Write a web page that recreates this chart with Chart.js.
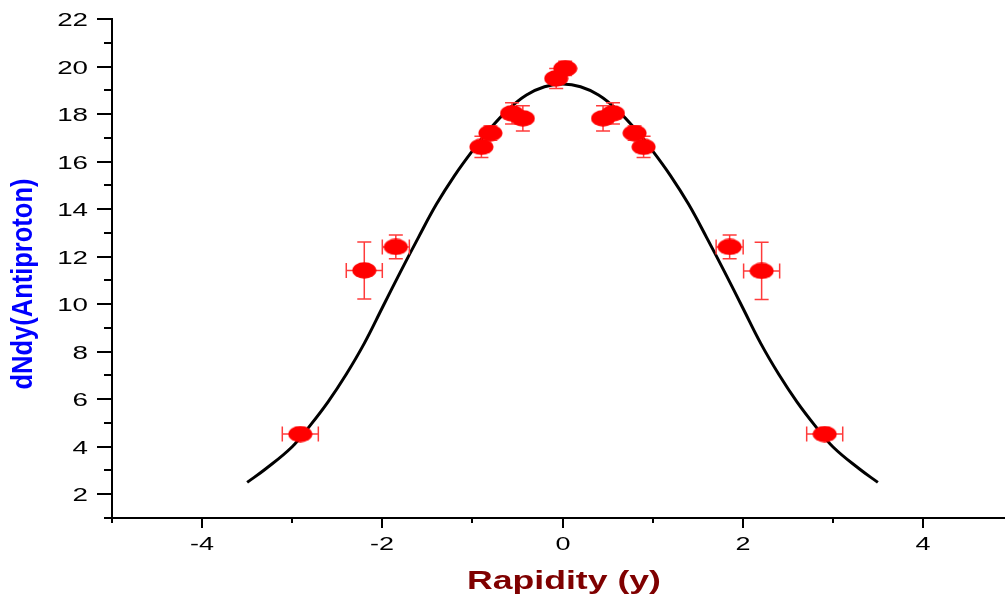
<!DOCTYPE html>
<html><head><meta charset="utf-8">
<script src="https://cdn.jsdelivr.net/npm/chart.js@4.4.0/dist/chart.umd.min.js"></script>
<style>html,body{margin:0;padding:0;overflow:hidden;background:#fff}canvas{display:block}</style>
</head><body>
<canvas id="c" width="1005" height="597" style="width:1005px;height:597px"></canvas>
<script>
// ---- data ----
const rapidity = [-2.91, -2.2, -1.85, -0.9, -0.8, -0.56, -0.44, -0.07, 0.03, 0.45, 0.56, 0.8, 0.9, 1.855, 2.21, 2.91];
const dNdy     = [4.53, 11.42, 12.41, 16.62, 17.2, 18.03, 17.82, 19.5, 19.92, 17.82, 18.03, 17.2, 16.62, 12.41, 11.4, 4.53];
const xErr     = [0.2, 0.2, 0.15, 0, 0, 0, 0, 0, 0, 0, 0, 0, 0, 0.15, 0.2, 0.2];
const yErr     = [0.2, 1.2, 0.5, 0.45, 0.3, 0.45, 0.53, 0.42, 0.3, 0.53, 0.45, 0.3, 0.45, 0.5, 1.2, 0.2];
const fitX = [-3.5, -3.3, -3.0, -2.8, -2.6, -2.4, -2.2, -2.0, -1.8, -1.6, -1.4, -1.2, -1.0, -0.8, -0.6, -0.4, -0.2, 0,
              0.2, 0.4, 0.6, 0.8, 1.0, 1.2, 1.4, 1.6, 1.8, 2.0, 2.2, 2.4, 2.6, 2.8, 3.0, 3.3, 3.5];
const fitY = [2.5, 3.05, 4.0, 4.9, 5.9, 7.05, 8.35, 9.85, 11.35, 12.8, 14.2, 15.4, 16.45, 17.4, 18.2, 18.8, 19.15, 19.26,
              19.15, 18.8, 18.2, 17.4, 16.45, 15.4, 14.2, 12.8, 11.35, 9.85, 8.35, 7.05, 5.9, 4.9, 4.0, 3.05, 2.5];
const xTickValues = [-5, -4, -3, -2, -1, 0, 1, 2, 3, 4];
const yTickValues = [1, 2, 3, 4, 5, 6, 7, 8, 9, 10, 11, 12, 13, 14, 15, 16, 17, 18, 19, 20, 21, 22];
const xTitle = 'Rapidity (y)';
const yTitle = 'dNdy(Antiproton)';

// ellipse marker
const marker = document.createElement('canvas');
marker.width = 25; marker.height = 17;
(function(){
  const m = marker.getContext('2d');
  m.fillStyle = '#ff0000';
  m.beginPath();
  m.ellipse(12.5, 8.5, 12, 8.3, 0, 0, Math.PI * 2);
  m.fill();
})();

const errorBars = {
  id: 'errorBars',
  beforeDatasetDraw(chart, args) {
    if (args.index !== 0) return;
    const ctx = chart.ctx, xs = chart.scales.x, ys = chart.scales.y;
    ctx.save();
    ctx.strokeStyle = '#ff3b3b';
    ctx.lineWidth = 1.5;
    const capW = 7, capH = 7.5;
    rapidity.forEach((xv, i) => {
      const yv = dNdy[i];
      const px = xs.getPixelForValue(xv), py = ys.getPixelForValue(yv);
      if (yErr[i] > 0) {
        const t = ys.getPixelForValue(yv + yErr[i]), b = ys.getPixelForValue(yv - yErr[i]);
        ctx.beginPath();
        ctx.moveTo(px, t); ctx.lineTo(px, b);
        ctx.moveTo(px - capW, t); ctx.lineTo(px + capW, t);
        ctx.moveTo(px - capW, b); ctx.lineTo(px + capW, b);
        ctx.stroke();
      }
      if (xErr[i] > 0) {
        const l = xs.getPixelForValue(xv - xErr[i]), r = xs.getPixelForValue(xv + xErr[i]);
        ctx.beginPath();
        ctx.moveTo(l, py); ctx.lineTo(r, py);
        ctx.moveTo(l, py - capH); ctx.lineTo(l, py + capH);
        ctx.moveTo(r, py - capH); ctx.lineTo(r, py + capH);
        ctx.stroke();
      }
    });
    ctx.restore();
  }
};

const axesDecor = {
  id: 'axesDecor',
  afterDraw(chart) {
    const ctx = chart.ctx, xs = chart.scales.x, ys = chart.scales.y, ca = chart.chartArea;
    ctx.save();
    ctx.strokeStyle = '#000';
    ctx.fillStyle = '#000';
    ctx.lineWidth = 2;
    ys.ticks.forEach(t => {
      const v = t.value, py = Math.round(ys.getPixelForValue(v));
      const major = v % 2 === 0;
      const len = major ? 15 : 8;
      ctx.beginPath(); ctx.moveTo(ca.left - len, py); ctx.lineTo(ca.left, py); ctx.stroke();
      if (major) {
        ctx.save();
        ctx.translate(ca.left - 24, py + 6.6);
        ctx.scale(1.5, 1);
        ctx.font = "18.5px 'Liberation Sans', Arial, sans-serif";
        ctx.textAlign = 'right';
        ctx.fillText(String(v), 0, 0);
        ctx.restore();
      }
    });
    xs.ticks.forEach(t => {
      const v = t.value, px = Math.round(xs.getPixelForValue(v));
      const major = v % 2 === 0;
      const len = major ? 10 : 5;
      ctx.beginPath(); ctx.moveTo(px, ca.bottom); ctx.lineTo(px, ca.bottom + len); ctx.stroke();
      if (major) {
        ctx.save();
        ctx.translate(px, 550);
        ctx.scale(1.5, 1);
        ctx.font = "18px 'Liberation Sans', Arial, sans-serif";
        ctx.textAlign = 'center';
        ctx.fillText(String(v), 0, 0);
        ctx.restore();
      }
    });
    ctx.save();
    ctx.translate(564, 589);
    ctx.scale(1.37, 1);
    ctx.font = "bold 26px 'Liberation Sans', Arial, sans-serif";
    ctx.fillStyle = '#7f0000';
    ctx.textAlign = 'center';
    ctx.fillText(xTitle, 0, 0);
    ctx.restore();
    ctx.save();
    ctx.translate(32, 284);
    ctx.rotate(-Math.PI / 2);
    ctx.scale(1.0, 1.15);
    ctx.font = "bold 25.5px 'Liberation Sans', Arial, sans-serif";
    ctx.fillStyle = '#0000ff';
    ctx.textAlign = 'center';
    ctx.fillText(yTitle, 0, 0);
    ctx.restore();
    ctx.restore();
  }
};

new Chart(document.getElementById('c'), {
  type: 'scatter',
  data: {
    datasets: [
      {
        label: 'data',
        data: rapidity.map((x, i) => ({ x: x, y: dNdy[i] })),
        pointStyle: marker,
        pointRadius: 12,
        order: 0
      },
      {
        label: 'fit',
        data: fitX.map((x, i) => ({ x: x, y: fitY[i] })),
        showLine: true,
        pointRadius: 0,
        borderColor: '#000',
        borderWidth: 3,
        tension: 0.4,
        order: 1
      }
    ]
  },
  options: {
    responsive: false,
    animation: false,
    events: [],
    layout: { autoPadding: false, padding: { top: 19, right: 1, left: 0, bottom: 0 } },
    plugins: { legend: { display: false }, tooltip: { enabled: false } },
    scales: {
      x: {
        type: 'linear', position: 'bottom', min: -5, max: 4.9,
        afterBuildTicks: s => { s.ticks = xTickValues.map(v => ({ value: v })); },
        afterFit: s => { s.height = 79; s.paddingLeft = 0; s.paddingRight = 0; },
        grid: { display: false },
        ticks: { display: false },
        border: { display: true, color: '#000', width: 2 }
      },
      y: {
        type: 'linear', min: 1, max: 22,
        afterBuildTicks: s => { s.ticks = yTickValues.map(v => ({ value: v })); },
        afterFit: s => { s.width = 112; s.paddingTop = 0; s.paddingBottom = 0; },
        grid: { display: false },
        ticks: { display: false },
        border: { display: true, color: '#000', width: 2 }
      }
    }
  },
  plugins: [errorBars, axesDecor]
});
</script>
</body></html>
